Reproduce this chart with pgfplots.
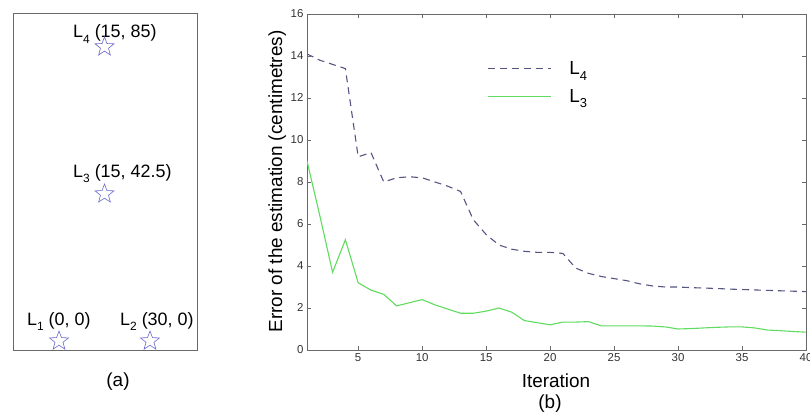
\documentclass[border=0pt]{standalone}
\usepackage{fontspec}
\setmainfont{Liberation Sans}
\usepackage{pgfplots}
\pgfplotsset{compat=1.18}
\definecolor{axgray}{RGB}{105,105,105}
\definecolor{lfour}{RGB}{85,85,130}
\definecolor{lthree}{RGB}{95,220,95}
\definecolor{starc}{RGB}{105,105,205}
\pgfdeclareplotmark{ostar}{%
  \pgfpathmoveto{\pgfpointpolar{90}{\pgfplotmarksize}}%
  \pgfpathlineto{\pgfpointpolar{126}{0.42\pgfplotmarksize}}%
  \pgfpathlineto{\pgfpointpolar{162}{\pgfplotmarksize}}%
  \pgfpathlineto{\pgfpointpolar{198}{0.42\pgfplotmarksize}}%
  \pgfpathlineto{\pgfpointpolar{234}{\pgfplotmarksize}}%
  \pgfpathlineto{\pgfpointpolar{270}{0.42\pgfplotmarksize}}%
  \pgfpathlineto{\pgfpointpolar{306}{\pgfplotmarksize}}%
  \pgfpathlineto{\pgfpointpolar{342}{0.42\pgfplotmarksize}}%
  \pgfpathlineto{\pgfpointpolar{18}{\pgfplotmarksize}}%
  \pgfpathlineto{\pgfpointpolar{54}{0.42\pgfplotmarksize}}%
  \pgfpathclose\pgfusepathqstroke}
\newcommand{\lab}[1]{\fontsize{18}{20}\selectfont L\raisebox{-0.55ex}{\fontsize{12}{12}\selectfont #1}}
\begin{document}
\begin{tikzpicture}
\useasboundingbox (0bp,0bp) rectangle (810bp,412bp);
% ---------- (a) ----------
\begin{axis}[at={(13bp,62bp)}, anchor=south west, scale only axis,
  width=184bp, height=337bp,
  xmin=-15.17, xmax=45.5, ymin=-2.6, ymax=94.8,
  xtick=\empty, ytick=\empty,
  axis line style={axgray, line width=0.8pt}, clip=false]
\addplot[only marks, mark=ostar, mark size=10bp, starc, line width=0.6pt]
  coordinates {(0,0) (30,0) (15,42.5) (15,85)};
\node[anchor=base west, inner sep=0pt] at (axis cs:4.6,87.6) {\lab{4} (15, 85)};
\node[anchor=base west, inner sep=0pt] at (axis cs:4.6,47.4) {\lab{3} (15, 42.5)};
\node[anchor=base west, inner sep=0pt] at (axis cs:-10.6,4.6) {\lab{1} (0, 0)};
\node[anchor=base west, inner sep=0pt] at (axis cs:20.1,4.6) {\lab{2} (30, 0)};
\end{axis}
\node[anchor=base, font=\fontsize{19}{21}\selectfont] at (118bp,26bp) {(a)};
% ---------- (b) ----------
\begin{axis}[at={(307bp,62bp)}, anchor=south west, scale only axis,
  width=499bp, height=336bp,
  xmin=1, xmax=40, ymin=0, ymax=16,
  xtick={5,10,...,40}, ytick={0,2,...,16},
  tick align=inside, major tick length=4bp,
  tick style={axgray, line width=0.6pt},
  axis line style={axgray, line width=0.8pt},
  ticklabel style={font=\fontsize{11.5}{12}\selectfont, text=black!80},
  /pgf/number format/assume math mode=true,
  legend image code/.code={\draw[#1] (0bp,0bp) -- (63bp,0bp);},
  legend style={draw=none, fill=none, at={(0.361,0.796)}, anchor=west,
    inner sep=0pt, row sep=9bp, column sep=16bp,
    font=\fontsize{19}{20}\selectfont},
  legend cell align=left]
\addplot[lfour, line width=1.1pt, dash pattern=on 7bp off 5bp] table {
x y
1 14.1
2 13.8
3 13.6
4 13.4
5 9.2
6 9.4
7 8.0
8 8.2
9 8.25
10 8.2
11 8.0
12 7.8
13 7.55
14 6.2
15 5.5
16 5.0
17 4.8
18 4.7
19 4.65
20 4.65
21 4.6
22 3.9
23 3.65
24 3.5
25 3.4
26 3.3
27 3.15
28 3.05
29 3.0
30 3.0
31 2.97
32 2.95
33 2.93
34 2.9
35 2.88
36 2.86
37 2.84
38 2.82
39 2.8
40 2.78
};
\addlegendentry{L\raisebox{-0.55ex}{\fontsize{13}{13}\selectfont 4}}
\addplot[lthree, line width=1.1pt] table {
x y
1 9.0
2 6.4
3 3.7
4 5.25
5 3.2
6 2.85
7 2.65
8 2.1
9 2.25
10 2.4
11 2.15
12 1.95
13 1.75
14 1.75
15 1.85
16 2.0
17 1.8
18 1.4
19 1.3
20 1.2
21 1.33
22 1.33
23 1.35
24 1.15
25 1.15
26 1.15
27 1.15
28 1.14
29 1.1
30 1.0
31 1.02
32 1.05
33 1.08
34 1.1
35 1.1
36 1.05
37 0.95
38 0.92
39 0.88
40 0.85
};
\addlegendentry{L\raisebox{-0.55ex}{\fontsize{13}{13}\selectfont 3}}
\end{axis}
\node[rotate=90, anchor=base, font=\fontsize{19}{21}\selectfont] at (282bp,230.5bp) {Error of the estimation (centimetres)};
\node[anchor=base, font=\fontsize{19}{21}\selectfont] at (556bp,25bp) {Iteration};
\node[anchor=base, font=\fontsize{19}{21}\selectfont] at (550bp,4bp) {(b)};
\end{tikzpicture}
\end{document}
